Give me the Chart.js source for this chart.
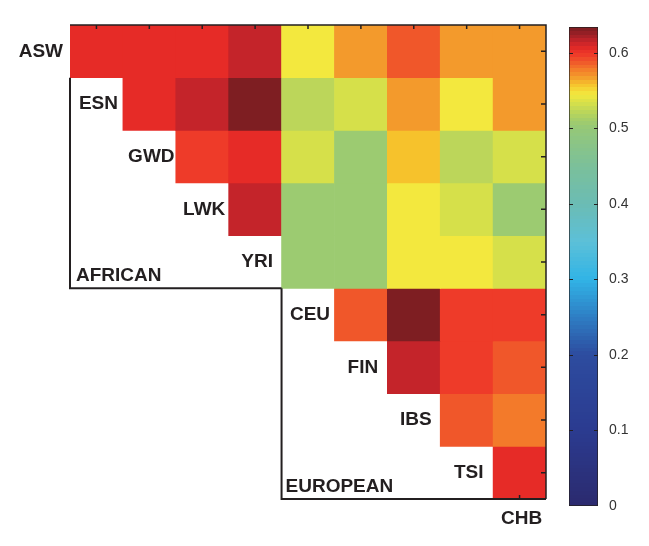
<!DOCTYPE html>
<html>
<head>
<meta charset="utf-8">
<script src="https://cdn.jsdelivr.net/npm/chart.js@4.4.1/dist/chart.umd.min.js"></script>
<style>
  html, body { margin: 0; padding: 0; background: #fff; }
  #wrap { position: relative; width: 649px; height: 546px; }
  #heat { position: absolute; left: 0; top: 0; }
  #bar { position: absolute; left: 555px; top: 0; }
</style>
</head>
<body>
<div id="wrap">
  <canvas id="heat" width="649" height="546"></canvas>
  <canvas id="bar" width="94" height="546"></canvas>
</div>
<script>
const populations = ['ASW', 'ESN', 'GWD', 'LWK', 'YRI', 'CEU', 'FIN', 'IBS', 'TSI', 'CHB'];
const rowLabels = populations.slice(0, 9);
const colLabels = populations.slice(1);

// upper triangle, each row starts at the diagonal
const aswRow = [0.605, 0.605, 0.605, 0.615, 0.545, 0.568, 0.588, 0.568, 0.568];
const esnRow = [0.605, 0.615, 0.633, 0.522, 0.533, 0.568, 0.545, 0.568];
const gwdRow = [0.597, 0.605, 0.533, 0.505, 0.558, 0.522, 0.533];
const lwkRow = [0.615, 0.505, 0.505, 0.545, 0.533, 0.505];
const yriRow = [0.505, 0.505, 0.545, 0.545, 0.533];
const ceuRow = [0.588, 0.633, 0.597, 0.597];
const finRow = [0.615, 0.597, 0.588];
const ibsRow = [0.588, 0.578];
const tsiRow = [0.605];
const matrix = [aswRow, esnRow, gwdRow, lwkRow, yriRow, ceuRow, finRow, ibsRow, tsiRow];

const groupNames = ['AFRICAN', 'EUROPEAN'];
const scaleMax = 0.634;
const barTicks = [0, 0.1, 0.2, 0.3, 0.4, 0.5, 0.6];

// colour map
const mapStops = [
  [0.000, '#2b2a6e'], [0.100, '#2b3b90'], [0.200, '#2d4c9f'], [0.250, '#2e7ec4'],
  [0.300, '#31b4e6'], [0.350, '#5cc0d8'], [0.400, '#6bbcb4'], [0.450, '#7bc09a'],
  [0.500, '#95c878'], [0.510, '#a2cd6a'], [0.522, '#bcd65a'], [0.533, '#d6e04a'],
  [0.545, '#f3e83e'], [0.558, '#f6c22c'], [0.568, '#f39a2c'], [0.578, '#f37a2a'],
  [0.588, '#f0572a'], [0.597, '#ee3b29'], [0.605, '#e62b27'], [0.615, '#c4242a'],
  [0.624, '#9c2026'], [0.634, '#7b1e21']
];

function hexRgb(h) {
  return [1, 3, 5].map(i => parseInt(h.slice(i, i + 2), 16));
}

function colorFor(v) {
  if (v <= mapStops[0][0]) return mapStops[0][1];
  for (let i = 1; i < mapStops.length; i++) {
    const [v1, c1] = mapStops[i];
    if (v <= v1) {
      const [v0, c0] = mapStops[i - 1];
      const t = (v - v0) / (v1 - v0);
      const a = hexRgb(c0), b = hexRgb(c1);
      const m = a.map((x, k) => Math.round(x + (b[k] - x) * t));
      return `rgb(${m[0]},${m[1]},${m[2]})`;
    }
  }
  return mapStops[mapStops.length - 1][1];
}

const labelFont = 'bold 19px "Liberation Sans", Arial, sans-serif';
const ink = '#231f20';

const heatFrame = {
  id: 'heatFrame',
  afterDatasetsDraw(chart) {
    const { ctx, chartArea: a, scales: { x, y } } = chart;
    const colW = x.getPixelForValue(1) - x.getPixelForValue(0);
    const edgeX = i => x.getPixelForValue(i) - colW / 2;
    ctx.save();
    ctx.strokeStyle = ink;

    // axis box (top and right) with inward ticks
    ctx.lineWidth = 1.5;
    ctx.beginPath();
    ctx.moveTo(a.left, a.top);
    ctx.lineTo(a.right, a.top);
    ctx.lineTo(a.right, a.bottom);
    colLabels.forEach((_, c) => {
      const px = x.getPixelForValue(c);
      ctx.moveTo(px, a.top);
      ctx.lineTo(px, a.top + 4);
    });
    rowLabels.forEach((_, r) => {
      const py = y.getPixelForValue(r + 0.5);
      ctx.moveTo(a.right, py);
      ctx.lineTo(a.right - 5, py);
    });
    const lastX = x.getPixelForValue(colLabels.length - 1);
    ctx.moveTo(lastX, a.bottom);
    ctx.lineTo(lastX, a.bottom - 4);
    ctx.stroke();

    // group outlines
    ctx.lineWidth = 2;
    ctx.beginPath();
    ctx.moveTo(edgeX(0), y.getPixelForValue(1));
    ctx.lineTo(edgeX(0), y.getPixelForValue(5));
    ctx.lineTo(edgeX(4), y.getPixelForValue(5));
    ctx.moveTo(edgeX(4), y.getPixelForValue(5));
    ctx.lineTo(edgeX(4), y.getPixelForValue(9));
    ctx.lineTo(a.right, y.getPixelForValue(9));
    ctx.stroke();

    // population names along the diagonal
    ctx.fillStyle = ink;
    ctx.font = labelFont;
    ctx.textBaseline = 'middle';
    populations.forEach((name, i) => {
      if (i === 0) {
        ctx.textAlign = 'right';
        ctx.fillText(name, a.left - 7, y.getPixelForValue(0.5));
      } else if (i === populations.length - 1) {
        ctx.textAlign = 'center';
        ctx.fillText(name, x.getPixelForValue(i - 1) + 2, a.bottom + 20);
      } else {
        ctx.textAlign = 'center';
        ctx.fillText(name, x.getPixelForValue(i - 1) + 2, y.getPixelForValue(i + 0.5));
      }
    });

    ctx.textAlign = 'left';
    ctx.fillText(groupNames[0], edgeX(0) + 6, y.getPixelForValue(5) - 13);
    ctx.fillText(groupNames[1], edgeX(4) + 4, y.getPixelForValue(9) - 12);
    ctx.restore();
  }
};

const datasets = matrix.map((row, r) => ({
  label: rowLabels[r],
  data: colLabels.map((_, c) => (c >= r ? [r, r + 1] : null)),
  backgroundColor: colLabels.map((_, c) => (c >= r ? colorFor(row[c - r]) : 'rgba(0,0,0,0)')),
  borderWidth: 0,
  barPercentage: 1,
  categoryPercentage: 1,
  grouped: false
}));

new Chart(document.getElementById('heat'), {
  type: 'bar',
  data: { labels: colLabels, datasets },
  options: {
    responsive: false,
    animation: false,
    layout: { padding: { left: 70, top: 25, right: 103, bottom: 47 } },
    plugins: { legend: { display: false }, tooltip: { enabled: false } },
    scales: {
      x: { type: 'category', display: false },
      y: { type: 'linear', min: 0, max: 9, reverse: true, display: false }
    }
  },
  plugins: [heatFrame]
});

// colour bar
function stepGradient(chart) {
  const { ctx, chartArea, scales } = chart;
  if (!chartArea) return null;
  const y = scales.y;
  const g = ctx.createLinearGradient(0, y.getPixelForValue(0), 0, y.getPixelForValue(scaleMax));
  const steps = Math.round(scaleMax / 0.005);
  for (let k = 0; k < steps; k++) {
    const col = colorFor((k + 0.5) / steps * scaleMax);
    g.addColorStop(k / steps, col);
    g.addColorStop((k + 1) / steps, col);
  }
  return g;
}

const barTickMarks = {
  id: 'barTickMarks',
  afterDatasetsDraw(chart) {
    const { ctx, chartArea: a, scales: { y } } = chart;
    ctx.save();
    ctx.strokeStyle = ink;
    ctx.lineWidth = 1;
    ctx.beginPath();
    y.ticks.forEach((t, i) => {
      if (t.value <= 0) return;
      const py = Math.round(y.getPixelForTick(i)) + 0.5;
      ctx.moveTo(a.left, py);
      ctx.lineTo(a.left + 4, py);
      ctx.moveTo(a.right - 4, py);
      ctx.lineTo(a.right, py);
    });
    ctx.stroke();
    ctx.restore();
  }
};

new Chart(document.getElementById('bar'), {
  type: 'bar',
  data: {
    labels: [''],
    datasets: [{
      data: [[0, scaleMax]],
      backgroundColor: ctx => stepGradient(ctx.chart),
      borderColor: ink,
      borderWidth: 1,
      borderSkipped: false,
      barPercentage: 1,
      categoryPercentage: 1
    }]
  },
  options: {
    responsive: false,
    animation: false,
    layout: { padding: { left: 14, right: 11, top: 27, bottom: 40 } },
    plugins: { legend: { display: false }, tooltip: { enabled: false } },
    scales: {
      x: { display: false },
      y: {
        position: 'right',
        min: 0,
        max: scaleMax,
        grid: { display: false },
        border: { display: false },
        afterFit: s => { s.width = 40; },
        afterBuildTicks: s => { s.ticks = barTicks.map(v => ({ value: v })); },
        ticks: {
          padding: 3,
          color: '#333',
          font: { size: 14, family: '"Liberation Sans", Arial, sans-serif' },
          callback: v => String(v)
        }
      }
    }
  },
  plugins: [barTickMarks]
});
</script>
</body>
</html>
